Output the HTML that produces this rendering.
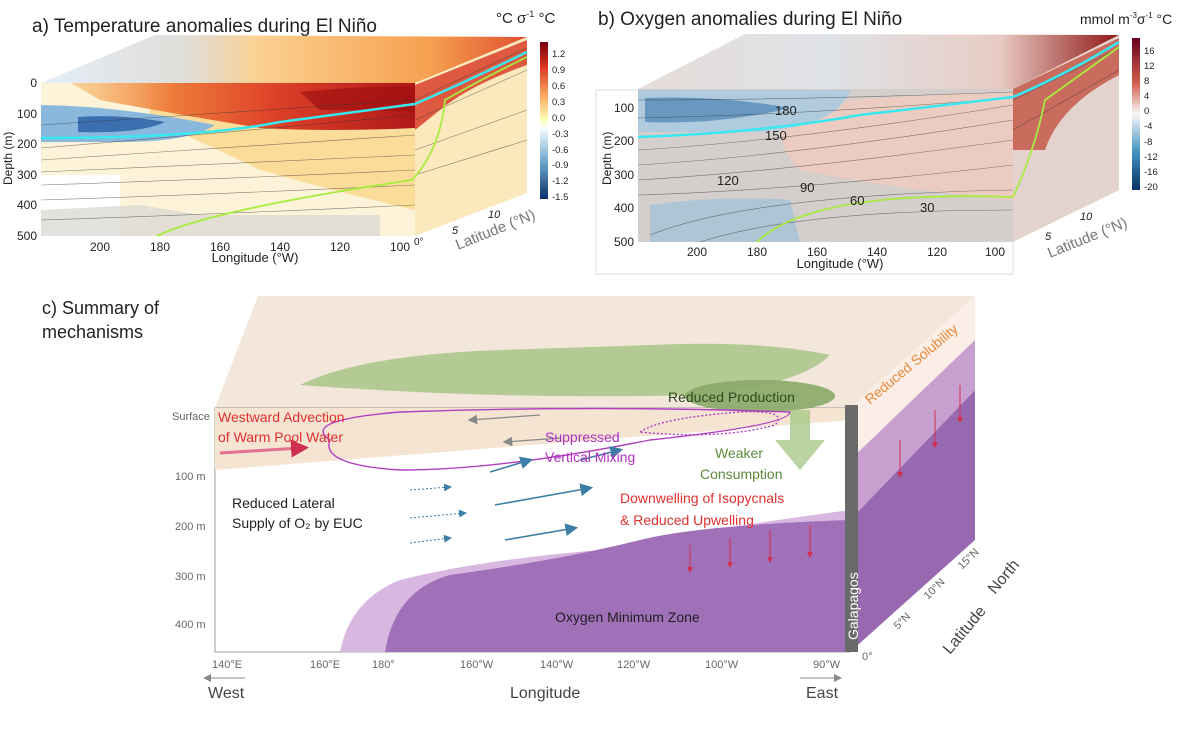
<!DOCTYPE html>
<html><head><meta charset="utf-8"><style>
body{margin:0;background:#fff;}
svg{display:block;font-family:"Liberation Sans",sans-serif;}
</style></head><body>
<svg width="1200" height="738" viewBox="0 0 1200 738">
<defs>
<linearGradient id="cbT" x1="0" y1="0" x2="0" y2="1">
<stop offset="0" stop-color="#7a0010"/><stop offset="0.15" stop-color="#d7301f"/><stop offset="0.35" stop-color="#fdae61"/><stop offset="0.5" stop-color="#ffffbf"/><stop offset="0.55" stop-color="#f7fbff"/><stop offset="0.75" stop-color="#74add1"/><stop offset="1" stop-color="#08306b"/></linearGradient>
<linearGradient id="cbO" x1="0" y1="0" x2="0" y2="1">
<stop offset="0" stop-color="#67001f"/><stop offset="0.3" stop-color="#d6604d"/><stop offset="0.5" stop-color="#f7f7f7"/><stop offset="0.75" stop-color="#4393c3"/><stop offset="1" stop-color="#053061"/></linearGradient>
<linearGradient id="redband" x1="0" y1="0" x2="1" y2="0">
<stop offset="0" stop-color="#f8c070" stop-opacity="0.6"/><stop offset="0.3" stop-color="#ee7a3a"/><stop offset="0.6" stop-color="#dd4028"/><stop offset="1" stop-color="#b01818"/></linearGradient>
<linearGradient id="topA" x1="0" y1="0" x2="1" y2="0">
<stop offset="0" stop-color="#e4eef8"/><stop offset="0.3" stop-color="#e0ddd8"/><stop offset="0.45" stop-color="#fbd090"/><stop offset="0.8" stop-color="#f6a050"/><stop offset="1" stop-color="#e05030"/></linearGradient>
<linearGradient id="topB" x1="0" y1="0" x2="1" y2="0">
<stop offset="0" stop-color="#e6dcda"/><stop offset="0.4" stop-color="#dfe2e6"/><stop offset="0.75" stop-color="#e8ccc4"/><stop offset="1" stop-color="#901818"/></linearGradient>
<marker id="ah" markerWidth="8" markerHeight="8" refX="6" refY="4" orient="auto"><path d="M0,0L8,4L0,8z" fill="#3d7ea6"/></marker>
<marker id="ahg" markerWidth="8" markerHeight="8" refX="6" refY="4" orient="auto"><path d="M0,0L8,4L0,8z" fill="#888"/></marker>
<marker id="ahr" markerWidth="6" markerHeight="6" refX="3" refY="3" orient="auto"><path d="M0,0L6,3L0,6z" fill="#d03050"/></marker>
</defs>

<!-- Panel a -->
<text x="32" y="32" font-size="19" fill="#222">a) Temperature anomalies during El Niño</text>
<polygon points="41,83 155,35 527,37 415,83" fill="url(#topA)"/>
<polygon points="415,83 527,37 527,193 415,236" fill="#fbe8bc"/>
<path d="M415,85 L527,40 L527,65 Q470,85 440,110 L415,130z" fill="#d8402a" opacity="0.85"/>
<rect x="41" y="83" width="374" height="153" fill="#fdf3d8"/>
<path d="M150,83 L415,83 L415,210 Q330,190 260,170 Q220,150 150,120z" fill="#fbdc98"/>
<path d="M71,83 L415,83 L415,128 Q330,132 260,128 Q180,115 100,100z" fill="url(#redband)"/>
<path d="M300,92 Q360,86 415,86 L415,112 Q370,110 320,110z" fill="#a01010" opacity="0.7"/>
<path d="M41,105 Q120,106 215,125 Q190,142 120,142 L41,142z" fill="#8ab8dc"/>
<path d="M78,117 Q120,114 165,122 Q140,134 78,132z" fill="#3b6fb0"/>
<path d="M41,175 L120,175 L120,236 L41,236z" fill="#fff"/>
<path d="M41,210 L140,205 L200,215 L380,215 L380,236 L41,236z" fill="#dcdad4" opacity="0.8"/>
<g fill="none" stroke="#333" stroke-width="0.6" opacity="0.6">
<path d="M41,125 Q200,115 415,100"/><path d="M41,148 Q200,135 415,115"/><path d="M41,160 Q200,150 415,135"/><path d="M41,172 Q200,165 415,155"/><path d="M41,185 Q200,180 415,170"/><path d="M41,200 Q200,195 415,185"/><path d="M41,220 Q200,215 415,205"/>
<path d="M415,100 L527,48"/><path d="M415,120 L527,70"/><path d="M415,150 L527,110"/><path d="M415,175 L527,140"/>
</g>
<path d="M41,138 Q200,138 280,122 L415,104 Q470,80 527,52" fill="none" stroke="#38e8f0" stroke-width="2.5"/>
<path d="M157,236 Q210,210 412,180 Q440,150 445,100 Q480,80 527,57" fill="none" stroke="#a8ec40" stroke-width="1.8"/>
<g font-size="12" fill="#222">
<text x="12" y="185" transform="rotate(-90 12 185)" font-size="12">Depth (m)</text>
<text x="37" y="87" text-anchor="end">0</text><text x="37" y="118" text-anchor="end">100</text><text x="37" y="148" text-anchor="end">200</text><text x="37" y="179" text-anchor="end">300</text><text x="37" y="209" text-anchor="end">400</text><text x="37" y="240" text-anchor="end">500</text>
<text x="100" y="251" text-anchor="middle">200</text><text x="160" y="251" text-anchor="middle">180</text><text x="220" y="251" text-anchor="middle">160</text><text x="280" y="251" text-anchor="middle">140</text><text x="340" y="251" text-anchor="middle">120</text><text x="400" y="251" text-anchor="middle">100</text>
<text x="255" y="262" font-size="13" text-anchor="middle">Longitude (°W)</text>
<text x="458" y="250" transform="rotate(-22 458 250)" font-size="15" fill="#777">Latitude (°N)</text>
<text x="452" y="234" font-size="11" font-style="italic">5</text><text x="488" y="218" font-size="11" font-style="italic">10</text><text x="414" y="245" font-size="10">0°</text>
</g>
<rect x="540" y="42" width="8" height="157" fill="url(#cbT)"/>
<g font-size="9.5" fill="#222"><text x="552" y="57">1.2</text><text x="552" y="73">0.9</text><text x="552" y="89">0.6</text><text x="552" y="105">0.3</text><text x="552" y="121">0.0</text><text x="552" y="137">-0.3</text><text x="552" y="153">-0.6</text><text x="552" y="168">-0.9</text><text x="552" y="184">-1.2</text><text x="552" y="200">-1.5</text></g>
<text x="496" y="23" font-size="15" fill="#222">°C σ<tspan font-size="9" dy="-6">-1</tspan><tspan dy="6"> °C</tspan></text>

<!-- Panel b -->
<text x="598" y="25" font-size="19" fill="#222">b) Oxygen anomalies during El Niño</text>
<rect x="596" y="90" width="417" height="184" fill="#fff" stroke="#ddd"/>
<polygon points="638,89 745,34 1119,35 1013,89" fill="url(#topB)"/>
<polygon points="1013,89 1119,35 1119,190 1013,242" fill="#e4d2ce"/>
<path d="M1013,89 L1119,38 L1119,75 Q1060,105 1045,150 L1013,150z" fill="#c04a38" opacity="0.75"/>
<rect x="638" y="89" width="375" height="153" fill="#d4cecc"/>
<path d="M790,105 Q900,95 1013,92 L1013,200 Q900,190 800,170 Q770,140 790,105z" fill="#ecccc0"/>
<path d="M638,90 L850,90 Q840,125 760,132 L638,132z" fill="#b0cade"/>
<path d="M645,98 Q720,95 790,108 Q720,125 645,122z" fill="#6898c0"/>
<path d="M650,205 Q720,195 790,200 L800,242 L650,242z" fill="#a8c4d6" opacity="0.9"/>
<g fill="none" stroke="#333" stroke-width="0.6" opacity="0.6">
<path d="M638,100 Q800,100 1013,92"/><path d="M638,118 Q800,115 1013,98"/><path d="M638,150 Q800,140 1013,105"/><path d="M638,165 Q800,155 1013,120"/><path d="M638,180 Q800,170 1013,140"/><path d="M638,195 Q800,190 1013,165"/><path d="M650,235 Q750,195 1013,190"/><path d="M700,242 Q800,210 1013,210"/>
<path d="M1013,100 L1119,48"/><path d="M1013,130 L1119,70"/>
</g>
<path d="M638,137 Q760,133 860,115 L1013,97 Q1065,75 1119,42" fill="none" stroke="#38e8f0" stroke-width="2.5"/>
<path d="M757,242 Q810,190 1013,197 Q1035,150 1045,100 Q1080,75 1119,47" fill="none" stroke="#a8ec40" stroke-width="1.8"/>
<g font-size="12" fill="#222">
<text x="611" y="185" transform="rotate(-90 611 185)" font-size="12">Depth (m)</text>
<text x="634" y="112" text-anchor="end">100</text><text x="634" y="145" text-anchor="end">200</text><text x="634" y="179" text-anchor="end">300</text><text x="634" y="212" text-anchor="end">400</text><text x="634" y="246" text-anchor="end">500</text>
<text x="697" y="256" text-anchor="middle">200</text><text x="757" y="256" text-anchor="middle">180</text><text x="817" y="256" text-anchor="middle">160</text><text x="877" y="256" text-anchor="middle">140</text><text x="937" y="256" text-anchor="middle">120</text><text x="995" y="256" text-anchor="middle">100</text>
<text x="840" y="268" font-size="13" text-anchor="middle">Longitude (°W)</text>
<text x="1050" y="258" transform="rotate(-22 1050 258)" font-size="15" fill="#777">Latitude (°N)</text>
<text x="1045" y="240" font-size="11" font-style="italic">5</text><text x="1080" y="220" font-size="11" font-style="italic">10</text>
<g font-size="13"><text x="775" y="115">180</text><text x="765" y="140">150</text><text x="717" y="185">120</text><text x="800" y="192">90</text><text x="850" y="205">60</text><text x="920" y="212">30</text></g>
</g>
<rect x="1132" y="38" width="8" height="152" fill="url(#cbO)"/>
<g font-size="9.5" fill="#222"><text x="1144" y="54">16</text><text x="1144" y="69">12</text><text x="1144" y="84">8</text><text x="1144" y="99">4</text><text x="1144" y="114">0</text><text x="1144" y="129">-4</text><text x="1144" y="145">-8</text><text x="1144" y="160">-12</text><text x="1144" y="175">-16</text><text x="1144" y="190">-20</text></g>
<text x="1080" y="24" font-size="14" fill="#222">mmol m<tspan font-size="8" dy="-6">-3</tspan><tspan dy="6">σ</tspan><tspan font-size="8" dy="-6">-1</tspan><tspan dy="6"> °C</tspan></text>

<!-- Panel c -->
<text x="42" y="314" font-size="18" fill="#222">c) Summary of</text>
<text x="42" y="338" font-size="18" fill="#222">mechanisms</text>
<polygon points="215,408 258,296 975,296 850,408" fill="#f3e6da"/>
<polygon points="850,408 975,296 975,540 850,652" fill="#fbeee6"/>
<rect x="215" y="408" width="635" height="244" fill="#fff" stroke="#888" stroke-width="0.8"/>
<polygon points="215,408 850,408 850,420 215,470" fill="#f5e4d2"/>
<path d="M300,385 Q360,355 500,350 L650,345 Q760,340 830,355 Q800,385 700,395 Q500,400 300,385z" fill="#a8c488" opacity="0.85"/>
<ellipse cx="760" cy="396" rx="75" ry="16" fill="#88a868" opacity="0.9"/>
<path d="M790,410 L810,410 L810,440 L825,440 L800,470 L775,440 L790,440z" fill="#a8c888" opacity="0.8"/>
<path d="M340,652 Q350,600 400,580 Q480,560 600,550 Q700,530 850,510 L850,652z" fill="#d8b8e0"/>
<path d="M385,652 Q395,590 450,575 Q560,560 640,540 Q700,525 850,520 L850,652z" fill="#a070b8"/>
<polygon points="850,520 975,390 975,540 850,652" fill="#9868b0"/>
<polygon points="850,460 975,340 975,390 850,520" fill="#c8a0d0"/>
<rect x="845" y="405" width="13" height="247" fill="#6a6a6a"/>
<text x="858" y="640" transform="rotate(-90 858 640)" font-size="14" fill="#fff">Galapagos</text>
<path d="M330,440 Q300,420 400,412 Q600,405 790,412 Q790,425 650,440 Q500,470 400,470 Q320,465 330,440z" fill="none" stroke="#b040c0" stroke-width="1.4"/>
<path d="M640,432 Q660,418 740,412 Q790,410 775,425 Q720,440 640,432z" fill="none" stroke="#b040c0" stroke-width="1.4" stroke-dasharray="2,2"/>
<g stroke="#888" stroke-width="1.2" marker-end="url(#ahg)"><line x1="540" y1="415" x2="470" y2="420"/><line x1="560" y1="438" x2="505" y2="442"/></g>
<g stroke="#3d7ea6" stroke-width="1.6" marker-end="url(#ah)"><line x1="490" y1="472" x2="530" y2="460"/><line x1="495" y1="505" x2="590" y2="488"/><line x1="505" y1="540" x2="575" y2="528"/><line x1="580" y1="460" x2="620" y2="450"/></g>
<g stroke="#3d7ea6" stroke-width="1" stroke-dasharray="2,2" marker-end="url(#ah)"><line x1="410" y1="490" x2="450" y2="487"/><line x1="410" y1="518" x2="465" y2="513"/><line x1="410" y1="543" x2="450" y2="538"/></g>
<path d="M220,453 L300,448" stroke="#e47090" stroke-width="3" marker-end="url(#ahr)"/>
<g stroke="#d03050" stroke-width="1" marker-end="url(#ahr)"><line x1="690" y1="545" x2="690" y2="570"/><line x1="730" y1="538" x2="730" y2="565"/><line x1="770" y1="530" x2="770" y2="560"/><line x1="810" y1="525" x2="810" y2="555"/><line x1="900" y1="440" x2="900" y2="475"/><line x1="935" y1="410" x2="935" y2="445"/><line x1="960" y1="385" x2="960" y2="420"/></g>
<g font-size="14">
<text x="218" y="422" fill="#e03030">Westward Advection</text><text x="218" y="442" fill="#e03030">of Warm Pool Water</text>
<text x="545" y="442" fill="#b030c0">Suppressed</text><text x="545" y="462" fill="#b030c0">Vertical Mixing</text>
<text x="668" y="402" fill="#2d4a1e">Reduced Production</text>
<text x="715" y="458" fill="#5a8a3a">Weaker</text><text x="700" y="479" fill="#5a8a3a">Consumption</text>
<text x="620" y="503" fill="#e03030">Downwelling of Isopycnals</text><text x="620" y="525" fill="#e03030">&amp; Reduced Upwelling</text>
<text x="232" y="508" fill="#222">Reduced Lateral</text><text x="232" y="528" fill="#222">Supply of O₂ by EUC</text>
<text x="555" y="622" fill="#222">Oxygen Minimum Zone</text>
<text x="870" y="405" transform="rotate(-40 870 405)" fill="#e88a3a">Reduced Solubility</text>
</g>
<g font-size="11" fill="#666">
<text x="172" y="420">Surface</text><text x="175" y="480">100 m</text><text x="175" y="530">200 m</text><text x="175" y="580">300 m</text><text x="175" y="628">400 m</text>
<text x="212" y="668">140°E</text><text x="310" y="668">160°E</text><text x="372" y="668">180°</text><text x="460" y="668">160°W</text><text x="540" y="668">140°W</text><text x="617" y="668">120°W</text><text x="705" y="668">100°W</text><text x="813" y="668">90°W</text>
<text x="898" y="630" transform="rotate(-45 898 630)">5°N</text><text x="928" y="600" transform="rotate(-45 928 600)">10°N</text><text x="962" y="570" transform="rotate(-45 962 570)">15°N</text><text x="862" y="660">0°</text>
</g>
<text x="510" y="698" font-size="16" fill="#444">Longitude</text>
<text x="208" y="698" font-size="16" fill="#444">West</text><line x1="245" y1="678" x2="205" y2="678" stroke="#888" marker-end="url(#ahg)"/>
<text x="806" y="698" font-size="16" fill="#444">East</text><line x1="800" y1="678" x2="840" y2="678" stroke="#888" marker-end="url(#ahg)"/>
<text x="950" y="655" transform="rotate(-50 950 655)" font-size="16" fill="#444">Latitude</text>
<text x="995" y="595" transform="rotate(-50 995 595)" font-size="16" fill="#444">North</text>
</svg>
</body></html>
